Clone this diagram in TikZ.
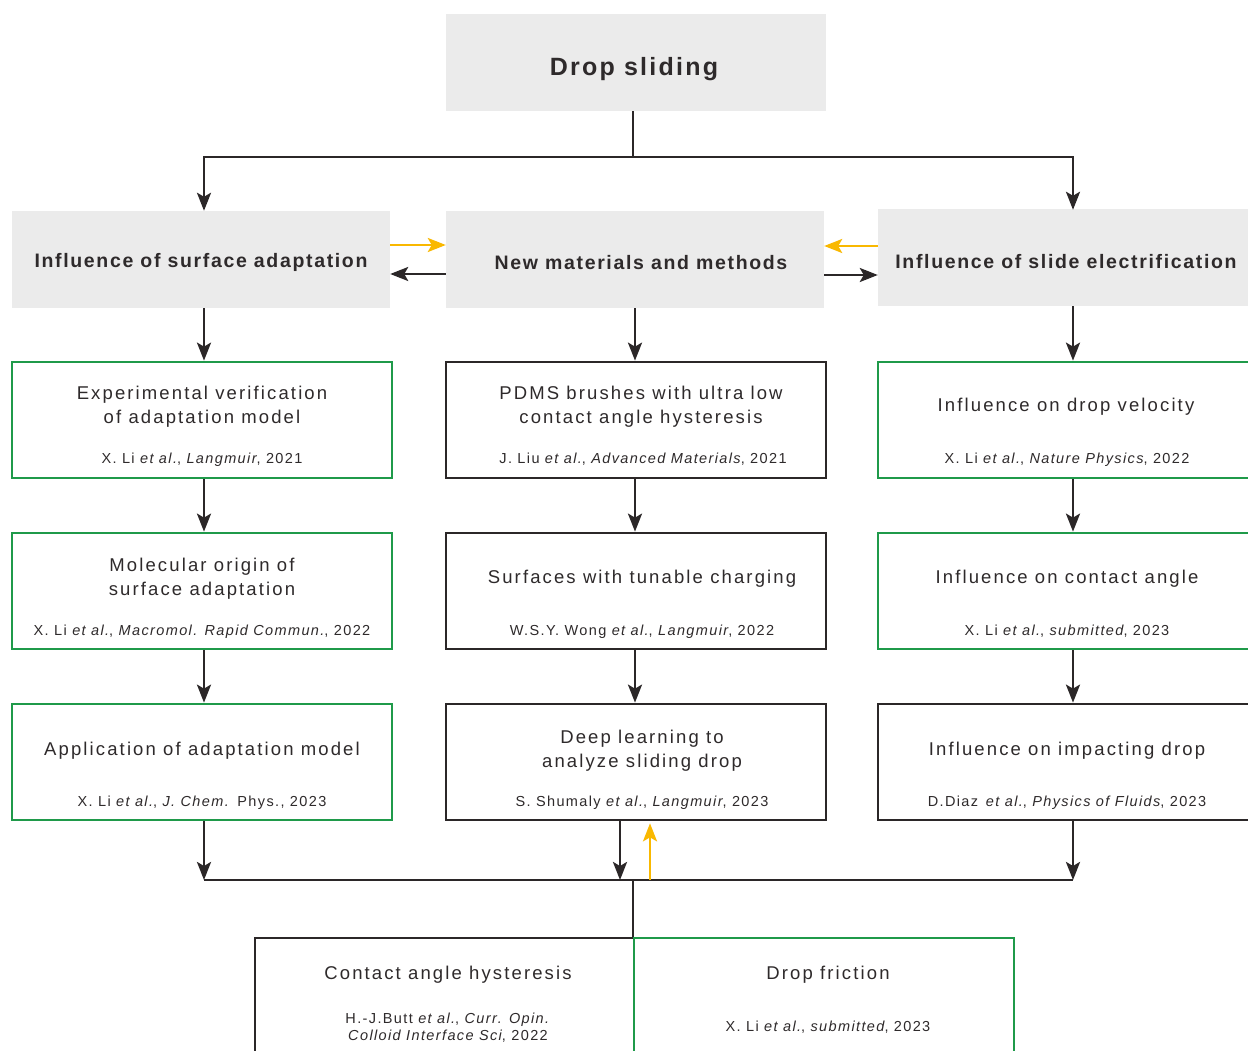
\documentclass[tikz,border=0pt]{standalone}
\usepackage{fontspec}
\setmainfont{Liberation Sans}[LetterSpace=3]
\newfontfamily\ttlf{Liberation Sans}[LetterSpace=11.5]
\newfontfamily\reff{Liberation Sans}[LetterSpace=9.5]
\newfontfamily\hdrf{Liberation Sans}[LetterSpace=8.5]
\newfontfamily\topf{Liberation Sans}[LetterSpace=9]
\usetikzlibrary{arrows.meta,calc}
\definecolor{lc}{HTML}{2B2728}
\definecolor{tc}{HTML}{2E2A2B}
\definecolor{gfill}{HTML}{EBEBEB}
\definecolor{gline}{HTML}{1F9A4A}
\definecolor{yl}{HTML}{F9B800}
\tikzset{
  hdr/.style={fill=gfill, minimum width=378pt, minimum height=97pt, inner sep=0pt},
  bbox/.style={draw=lc, line width=2.7pt, minimum width=380pt, minimum height=116pt, inner sep=0pt},
  gbox/.style={draw=gline, line width=2.7pt, minimum width=380pt, minimum height=116pt, inner sep=0pt},
  ttl/.style={text=tc, align=center, font=\ttlf\fontsize{18.5}{24}\selectfont, inner sep=0pt},
  refs/.style={text=tc, align=center, font=\reff\fontsize{14.5}{17.5}\selectfont, inner sep=0pt},
  htxt/.style={text=tc, font=\hdrf\bfseries\fontsize{19.5}{24}\selectfont, inner sep=0pt},
  ln/.style={draw=lc, line width=2.7pt},
  arr/.style={draw=lc, line width=2.7pt, -{Stealth[length=18pt,width=14pt,inset=4pt]}},
  yarr/.style={draw=yl, line width=2.3pt, -{Stealth[length=18pt,width=14pt,inset=4pt]}},
}
\begin{document}
\begin{tikzpicture}[x=1pt,y=-1pt]
\useasboundingbox (0,0) rectangle (1248,1051);
\clip (0,0) rectangle (1248,1051);
\fill[white] (0,0) rectangle (1248,1051);
% column axes
\coordinate (colL) at (204,0);
\coordinate (colM) at (635,0);
\coordinate (colR) at (1073,0);
% top
\node[hdr, minimum width=380pt] (top) at (636,62.5) {};
\node[text=tc, font=\topf\bfseries\fontsize{25}{30}\selectfont, inner sep=0pt] (toptxt) at (634,69.5) {Drop sliding};
% headers
\node[hdr] (H1) at (201,259.5) {};
\node[htxt] (H1t) at (201,262) {Influence of surface adaptation};
\node[hdr] (H2) at (635,259.5) {};
\node[htxt] (H2t) at (641,262.5) {New materials and methods};
\node[hdr] (H3) at (1067,257.5) {};
\node[htxt] (H3t) at (1066,262) {Influence of slide electrification};
% rows
\node[gbox] (L1) at (202,420) {};
\node[bbox] (M1) at (636,420) {};
\node[gbox] (R1) at (1068,420) {};
\node[gbox] (L2) at (202,591) {};
\node[bbox] (M2) at (636,591) {};
\node[gbox] (R2) at (1068,591) {};
\node[gbox] (L3) at (202,762) {};
\node[bbox] (M3) at (636,762) {};
\node[bbox] (R3) at (1068,762) {};
% texts row1
\node[ttl] (L1t) at (202,407) {Experimental verification\\of adaptation model};
\node[refs] (L1r) at (202,459.5) {X. Li \textit{et al.}, \textit{Langmuir}, 2021};
\node[ttl] (M1t) at (641,407) {PDMS brushes with ultra low\\contact angle hysteresis};
\node[refs] (M1r) at (643,459.5) {J. Liu \textit{et al.}, \textit{Advanced Materials}, 2021};
\node[ttl] (R1t) at (1066,407) {Influence on drop velocity};
\node[refs] (R1r) at (1067,459.5) {X. Li \textit{et al.}, \textit{Nature Physics}, 2022};
% row2
\node[ttl] (L2t) at (202,579) {Molecular origin of\\surface adaptation};
\node[refs] (L2r) at (202,631.5) {X. Li \textit{et al.}, \textit{Macromol. Rapid Commun.}, 2022};
\node[ttl] (M2t) at (642,579) {Surfaces with tunable charging};
\node[refs] (M2r) at (642,631.5) {W.S.Y. Wong \textit{et al.}, \textit{Langmuir}, 2022};
\node[ttl] (R2t) at (1067,579) {Influence on contact angle};
\node[refs] (R2r) at (1067,631.5) {X. Li \textit{et al.}, \textit{submitted}, 2023};
% row3
\node[ttl] (L3t) at (202,751) {Application of adaptation model};
\node[refs] (L3r) at (202,802.5) {X. Li \textit{et al.}, \textit{J. Chem.} Phys., 2023};
\node[ttl] (M3t) at (642,751) {Deep learning to\\analyze sliding drop};
\node[refs] (M3r) at (642,802.5) {S. Shumaly \textit{et al.}, \textit{Langmuir}, 2023};
\node[ttl] (R3t) at (1067,751) {Influence on impacting drop};
\node[refs] (R3r) at (1067,802.5) {D.Diaz\, \textit{et al.}, \textit{Physics of Fluids}, 2023};
% bottom
\node[bbox, minimum width=379pt, minimum height=140pt] (B1) at (444.5,1008) {};
\node[gbox, minimum width=380pt, minimum height=140pt] (B2) at (824,1008) {};
\node[ttl] (B1t) at (448,975) {Contact angle hysteresis};
\node[refs] (B1r) at (448,1027.5) {H.-J.Butt \textit{et al.}, \textit{Curr. Opin.}\\\textit{Colloid Interface Sci}, 2022};
\node[ttl] (B2t) at (828,975) {Drop friction};
\node[refs] (B2r) at (828,1027.5) {X. Li \textit{et al.}, \textit{submitted}, 2023};
% connectors top
\coordinate (split) at (633,157);
\draw[ln] (top.south -| split) -- (split);
\draw[arr] (split) -| (H1.north -| colL);
\draw[arr] (split) -| ([yshift=-1pt]H3.north -| colR);
% header side arrows
\draw[yarr] (H1.east |- {(0,245)}) -- (H2.west |- {(0,245)});
\draw[arr] (H2.west |- {(0,274)}) -- (H1.east |- {(0,274)});
\draw[yarr] (H3.west |- {(0,246)}) -- (H2.east |- {(0,246)});
\draw[arr] (H2.east |- {(0,275)}) -- (H3.west |- {(0,275)});
% vertical arrows
\draw[arr] (H1.south -| colL) -- (L1.north -| colL);
\draw[arr] (L1.south -| colL) -- (L2.north -| colL);
\draw[arr] (L2.south -| colL) -- (L3.north -| colL);
\draw[arr] (H2.south -| colM) -- (M1.north -| colM);
\draw[arr] (M1.south -| colM) -- (M2.north -| colM);
\draw[arr] (M2.south -| colM) -- (M3.north -| colM);
\draw[arr] (H3.south -| colR) -- (R1.north -| colR);
\draw[arr] (R1.south -| colR) -- (R2.north -| colR);
\draw[arr] (R2.south -| colR) -- (R3.north -| colR);
% bottom collection
\coordinate (join) at (633,880);
\draw[arr] (L3.south -| colL) -- (join -| colL);
\draw[arr] (R3.south -| colR) -- (join -| colR);
\draw[ln] (join -| colL) -- (join -| colR);
\draw[arr] (M3.south -| {(620,0)}) -- (join -| {(620,0)});
\draw[yarr] (join -| {(650,0)}) -- ([yshift=-2pt]M3.south -| {(650,0)});
\draw[ln] (join) -- (join |- B1.north);
\end{tikzpicture}
\end{document}
